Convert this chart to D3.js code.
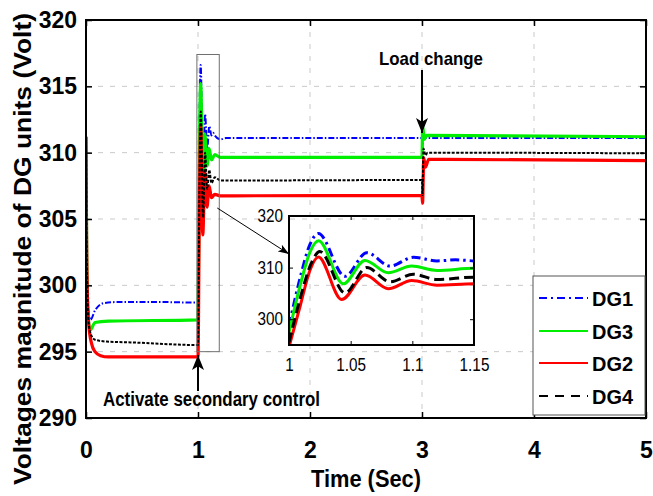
<!DOCTYPE html>
<html>
<head>
<meta charset="utf-8">
<script src="https://cdn.jsdelivr.net/npm/d3@7"></script>
<style>
  html, body { margin: 0; padding: 0; background: #fff; }
  svg { display: block; font-family: "Liberation Sans", Arial, Helvetica, sans-serif; }
</style>
</head>
<body>
<svg id="chart" width="653" height="496"></svg>
<script>
// Voltage magnitude of the four DG units (V) over time (s)
const dg1Time = [0, 0.006, 0.02, 0.04, 0.08, 0.155, 0.3, 0.6, 1.0, 1.009, 1.017, 1.0238, 1.0454, 1.063, 1.082, 1.1008, 1.12, 1.135, 1.15, 1.2, 1.25, 3.0, 3.004, 3.012, 3.03, 5];
const dg1Volt = [311.2, 303, 298.2, 297.4, 298.1, 298.65, 298.75, 298.75, 298.7, 308.0, 314.5, 316.6, 308.3, 312.9, 310.3, 312.0, 311.3, 311.5, 311.3, 311.0, 311.1, 311.1, 310.2, 311.6, 311.1, 311.1];

const dg3Time = [0, 0.006, 0.02, 0.036, 0.08, 0.2, 1.0, 1.009, 1.017, 1.024, 1.044, 1.0616, 1.0805, 1.0995, 1.12, 1.15, 1.2, 3.0, 3.006, 3.02, 3.04, 5];
const dg3Volt = [311.2, 302.5, 297.5, 296.6, 297.2, 297.3, 297.4, 306.5, 313.0, 315.2, 306.85, 311.4, 309.0, 310.3, 309.45, 309.85, 309.65, 309.65, 312.0, 311.0, 311.3, 311.2];

const dg2Time = [0, 0.004, 0.012, 0.025, 0.05, 0.08, 0.13, 0.2, 1.0, 1.009, 1.017, 1.0238, 1.0427, 1.0616, 1.0805, 1.0995, 1.12, 1.15, 1.2, 3.0, 3.005, 3.016, 3.03, 3.06, 5];
const dg2Volt = [311.2, 305, 299.5, 297.0, 295.6, 295.0, 294.7, 294.6, 294.6, 302.5, 309.5, 312.05, 303.8, 308.55, 305.9, 307.5, 306.6, 306.85, 306.75, 306.76, 306.2, 309.6, 308.9, 309.5, 309.4];

const dg4Time = [0, 0.006, 0.02, 0.036, 0.08, 0.185, 0.4, 1.0, 1.009, 1.018, 1.025, 1.0454, 1.063, 1.082, 1.1008, 1.12, 1.15, 1.2, 3.0, 3.004, 3.014, 3.03, 3.05, 5];
const dg4Volt = [311.2, 303, 297.6, 296.5, 295.9, 295.76, 295.7, 295.5, 304.0, 310.8, 313.1, 305.1, 310.0, 307.25, 308.7, 307.7, 308.15, 307.9, 307.94, 306.8, 310.3, 309.8, 310.0, 309.95];

const seriesNames = ["DG1", "DG3", "DG2", "DG4"];   // drawing order
const legendOrder = ["DG1", "DG3", "DG2", "DG4"];

const xTicks = [0, 1, 2, 3, 4, 5];
const yTicks = [290, 295, 300, 305, 310, 315, 320];
const insetXTicks = [1, 1.05, 1.1, 1.15];
const insetYTicks = [300, 310, 320];

const secondaryOnTime = 1;
const loadChangeTime = 3;
const zoomWindow = { t0: 0.99, t1: 1.19, v0: 295.0, v1: 317.4 };

// ---- styling ----
const styles = {
  DG1: { color: "#0000ff", dash: "6,2,1.5,2", width: 2, insetDash: "9,4,2.5,4", legendDash: "8,4,2,4" },
  DG3: { color: "#00ee00", dash: null, width: 3.2, insetDash: null, legendDash: null },
  DG2: { color: "#ff0000", dash: null, width: 3.2, insetDash: null, legendDash: null },
  DG4: { color: "#000000", dash: "3,1.5", width: 2, insetDash: "10,5", legendDash: "9,7" }
};

const data = {
  DG1: d3.zip(dg1Time, dg1Volt),
  DG3: d3.zip(dg3Time, dg3Volt),
  DG2: d3.zip(dg2Time, dg2Volt),
  DG4: d3.zip(dg4Time, dg4Volt)
};

const svg = d3.select("#chart");
const plot = { left: 86, top: 20, right: 646, bottom: 418 };

const x = d3.scaleLinear().domain([0, 5]).range([plot.left, plot.right]);
const y = d3.scaleLinear().domain([290, 320]).range([plot.bottom, plot.top]);

const defs = svg.append("defs");
defs.append("clipPath").attr("id", "clipMain")
  .append("rect").attr("x", plot.left).attr("y", plot.top)
  .attr("width", plot.right - plot.left).attr("height", plot.bottom - plot.top);

function arrowMarker(id, len, wid) {
  defs.append("marker").attr("id", id)
    .attr("viewBox", `0 0 ${len} ${wid}`)
    .attr("refX", len).attr("refY", wid / 2)
    .attr("markerWidth", len).attr("markerHeight", wid)
    .attr("markerUnits", "userSpaceOnUse")
    .attr("orient", "auto")
    .append("path")
    .attr("d", `M0,0 L${len},${wid / 2} L0,${wid} L${len * 0.25},${wid / 2} Z`)
    .attr("fill", "#000");
}
arrowMarker("arrowBig", 15, 12);
arrowMarker("arrowSmall", 11, 8);

// ---- grid ----
const gridColor = "#c9c9c9";
svg.append("g").selectAll("line")
  .data(yTicks.slice(1, -1)).join("line")
  .attr("x1", plot.left).attr("x2", plot.right)
  .attr("y1", d => y(d)).attr("y2", d => y(d))
  .attr("stroke", gridColor).attr("stroke-width", 1).attr("stroke-dasharray", "5,7");
svg.append("g").selectAll("line")
  .data(xTicks.slice(1, -1)).join("line")
  .attr("y1", plot.top).attr("y2", plot.bottom)
  .attr("x1", d => x(d)).attr("x2", d => x(d))
  .attr("stroke", gridColor).attr("stroke-width", 1).attr("stroke-dasharray", "5,7");

// ---- main traces ----
const line = d3.line().x(d => x(d[0])).y(d => y(d[1])).curve(d3.curveMonotoneX);
const gMain = svg.append("g").attr("clip-path", "url(#clipMain)");
seriesNames.forEach(name => {
  const s = styles[name];
  gMain.append("path").datum(data[name])
    .attr("d", line)
    .attr("fill", "none")
    .attr("stroke", s.color)
    .attr("stroke-width", s.width)
    .attr("stroke-dasharray", s.dash)
    .attr("stroke-linejoin", "round");
});

// ---- axes (ticks pointing inward on all four sides) ----
const tickFont = 23;
const axLeft = svg.append("g").attr("transform", `translate(${plot.left},0)`)
  .call(d3.axisLeft(y).tickValues(yTicks).tickSize(-6).tickPadding(9).tickFormat(d3.format("d")));
const axBottom = svg.append("g").attr("transform", `translate(0,${plot.bottom})`)
  .call(d3.axisBottom(x).tickValues(xTicks).tickSize(-6).tickPadding(24).tickFormat(d3.format("d")));
const axRight = svg.append("g").attr("transform", `translate(${plot.right},0)`)
  .call(d3.axisRight(y).tickValues(yTicks).tickSize(-6).tickFormat(""));
const axTop = svg.append("g").attr("transform", `translate(0,${plot.top})`)
  .call(d3.axisTop(x).tickValues(xTicks).tickSize(-6).tickFormat(""));
[axLeft, axBottom, axRight, axTop].forEach(g => {
  g.select(".domain").remove();
  g.selectAll(".tick line").attr("stroke", "#000").attr("stroke-width", 1.5);
  g.selectAll("text").attr("font-size", tickFont).attr("font-weight", "bold")
    .attr("fill", "#000").attr("font-family", null);
});
svg.append("rect")
  .attr("x", plot.left).attr("y", plot.top)
  .attr("width", plot.right - plot.left).attr("height", plot.bottom - plot.top)
  .attr("fill", "none").attr("stroke", "#000").attr("stroke-width", 2);

// ---- axis titles ----
svg.append("text")
  .attr("x", x(2.5)).attr("y", 487)
  .attr("text-anchor", "middle")
  .attr("font-size", 24).attr("font-weight", "bold")
  .attr("textLength", 110).attr("lengthAdjust", "spacingAndGlyphs")
  .text("Time (Sec)");
svg.append("text")
  .attr("transform", "translate(31,249) rotate(-90)")
  .attr("text-anchor", "middle")
  .attr("font-size", 24).attr("font-weight", "bold")
  .attr("textLength", 472).attr("lengthAdjust", "spacingAndGlyphs")
  .text("Voltages magnitude of DG units (Volt)");

// ---- zoom window marker ----
svg.append("rect")
  .attr("x", x(zoomWindow.t0)).attr("y", y(zoomWindow.v1))
  .attr("width", x(zoomWindow.t1) - x(zoomWindow.t0))
  .attr("height", y(zoomWindow.v0) - y(zoomWindow.v1))
  .attr("fill", "none").attr("stroke", "#707070").attr("stroke-width", 1);

// ---- annotations ----
svg.append("text")
  .attr("x", 103).attr("y", 406)
  .attr("font-size", 20).attr("font-weight", "bold")
  .attr("textLength", 217).attr("lengthAdjust", "spacingAndGlyphs")
  .text("Activate secondary control");
svg.append("line")
  .attr("x1", x(secondaryOnTime)).attr("x2", x(secondaryOnTime))
  .attr("y1", 391).attr("y2", 355)
  .attr("stroke", "#000").attr("stroke-width", 2)
  .attr("marker-end", "url(#arrowBig)");

svg.append("text")
  .attr("x", 379).attr("y", 65)
  .attr("font-size", 19).attr("font-weight", "bold")
  .attr("textLength", 104).attr("lengthAdjust", "spacingAndGlyphs")
  .text("Load change");
svg.append("line")
  .attr("x1", x(loadChangeTime)).attr("x2", x(loadChangeTime))
  .attr("y1", 70).attr("y2", 133)
  .attr("stroke", "#000").attr("stroke-width", 2)
  .attr("marker-end", "url(#arrowBig)");

// ---- inset: close-up of the secondary-control transient ----
const inset = { left: 289, top: 216, right: 474, bottom: 345 };
const xi = d3.scaleLinear().domain([1, 1.15]).range([inset.left, inset.right]);
const yi = d3.scaleLinear().domain([295, 320]).range([inset.bottom, inset.top]);

svg.append("line")
  .attr("x1", x(zoomWindow.t1) - 2).attr("y1", 208)
  .attr("x2", inset.left).attr("y2", 254)
  .attr("stroke", "#000").attr("stroke-width", 1)
  .attr("marker-end", "url(#arrowSmall)");

defs.append("clipPath").attr("id", "clipInset")
  .append("rect").attr("x", inset.left).attr("y", inset.top)
  .attr("width", inset.right - inset.left).attr("height", inset.bottom - inset.top);

const lineInset = d3.line().x(d => xi(d[0])).y(d => yi(d[1])).curve(d3.curveMonotoneX);
const gInset = svg.append("g").attr("clip-path", "url(#clipInset)");
seriesNames.forEach(name => {
  const s = styles[name];
  gInset.append("path").datum(data[name].filter(d => d[0] >= 0.9 && d[0] <= 1.3))
    .attr("d", lineInset)
    .attr("fill", "none")
    .attr("stroke", s.color)
    .attr("stroke-width", 3)
    .attr("stroke-dasharray", s.insetDash)
    .attr("stroke-linejoin", "round");
});

const iLeft = svg.append("g").attr("transform", `translate(${inset.left},0)`)
  .call(d3.axisLeft(yi).tickValues(insetYTicks).tickSize(-4).tickPadding(6).tickFormat(d3.format("d")));
const iBottom = svg.append("g").attr("transform", `translate(0,${inset.bottom})`)
  .call(d3.axisBottom(xi).tickValues(insetXTicks).tickSize(-4).tickPadding(13).tickFormat(d => String(d)));
const iRight = svg.append("g").attr("transform", `translate(${inset.right},0)`)
  .call(d3.axisRight(yi).tickValues(insetYTicks).tickSize(-4).tickFormat(""));
const iTop = svg.append("g").attr("transform", `translate(0,${inset.top})`)
  .call(d3.axisTop(xi).tickValues(insetXTicks).tickSize(-4).tickFormat(""));
[iLeft, iBottom, iRight, iTop].forEach(g => {
  g.select(".domain").remove();
  g.selectAll(".tick line").attr("stroke", "#000").attr("stroke-width", 1);
  g.selectAll("text").attr("font-size", 18).attr("fill", "#000").attr("font-family", null)
    .each(function () {
      const w = this.getComputedTextLength();
      d3.select(this).attr("textLength", w * 0.85).attr("lengthAdjust", "spacingAndGlyphs");
    });
});
svg.append("rect")
  .attr("x", inset.left).attr("y", inset.top)
  .attr("width", inset.right - inset.left).attr("height", inset.bottom - inset.top)
  .attr("fill", "none").attr("stroke", "#000").attr("stroke-width", 2);

// ---- legend ----
const legend = { left: 533, top: 276, width: 112, height: 139, rowY: [298, 331, 363, 396] };
const gLeg = svg.append("g");
gLeg.append("rect")
  .attr("x", legend.left).attr("y", legend.top)
  .attr("width", legend.width).attr("height", legend.height)
  .attr("fill", "#fff").attr("stroke", "#555").attr("stroke-width", 1);
legendOrder.forEach((name, i) => {
  const s = styles[name];
  const yy = legend.rowY[i];
  gLeg.append("line")
    .attr("x1", 539).attr("x2", 588).attr("y1", yy).attr("y2", yy)
    .attr("stroke", s.color).attr("stroke-width", 2)
    .attr("stroke-dasharray", s.legendDash);
  gLeg.append("text")
    .attr("x", 592).attr("y", yy + 7.5)
    .attr("font-size", 21).attr("font-weight", "bold")
    .attr("textLength", 41).attr("lengthAdjust", "spacingAndGlyphs")
    .text(name);
});
</script>
</body>
</html>
